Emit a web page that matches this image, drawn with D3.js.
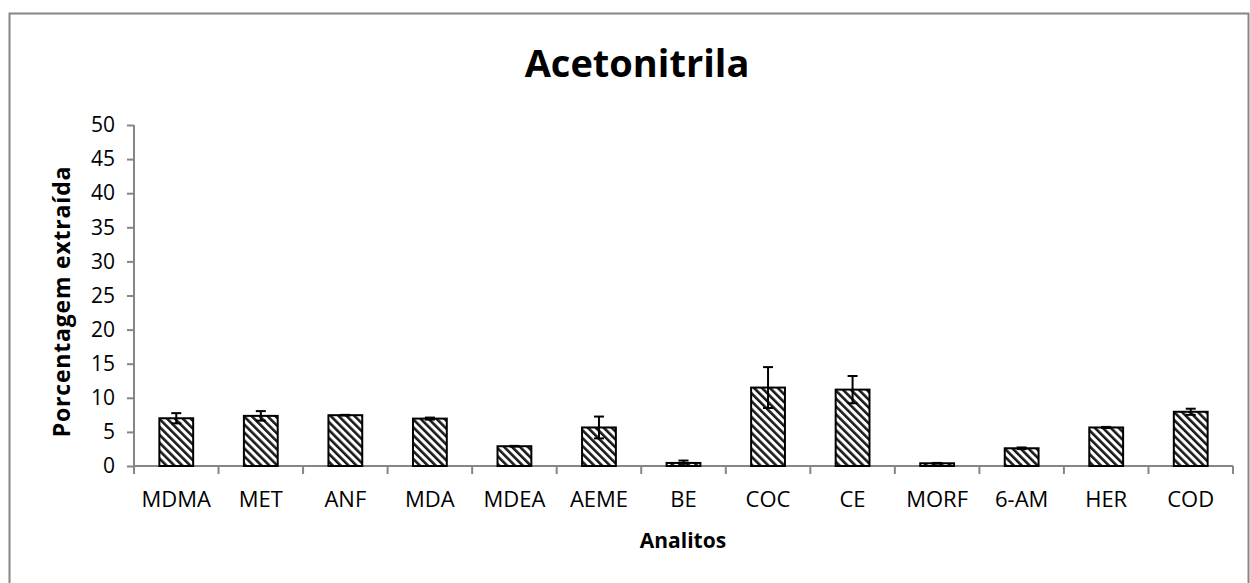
<!DOCTYPE html>
<html lang="pt">
  <head>
    <meta charset="UTF-8" />
    <title>Acetonitrila</title>
    <script src="https://d3js.org/d3.v7.min.js"></script>
    <style>
      body {
        margin: 0;
        background: #ffffff;
        font-family: "Open Sans", sans-serif;
      }
      svg text {
        fill: #000;
      }
    </style>
  </head>
  <body>
    <svg id="chart" width="1250" height="583"></svg>

    <script>
      const categories = ["MDMA", "MET", "ANF", "MDA", "MDEA", "AEME", "BE", "COC", "CE", "MORF", "6-AM", "HER", "COD"];
      const values = [7.0, 7.35, 7.45, 6.95, 2.9, 5.65, 0.45, 11.5, 11.2, 0.4, 2.6, 5.65, 7.95];
      const errors = [0.75, 0.7, 0.05, 0.15, 0.05, 1.6, 0.35, 3.0, 2.0, 0.05, 0.12, 0.08, 0.45];
      const yTicks = [0, 5, 10, 15, 20, 25, 30, 35, 40, 45, 50];

      const margin = {top: 125, left: 134, right: 17, bottom: 117};
      const W = 1250, H = 583;
      const svg = d3.select("#chart");

      // outer chart border
      svg.append("rect")
        .attr("x", 9.5).attr("y", 13.5)
        .attr("width", 1239).attr("height", 620)
        .attr("fill", "none").attr("stroke", "#868686").attr("stroke-width", 2);

      const defs = svg.append("defs");
      const pat = defs.append("pattern")
        .attr("id", "hatch")
        .attr("patternUnits", "userSpaceOnUse")
        .attr("width", 5.6).attr("height", 5.6)
        .attr("patternTransform", "rotate(-45)");
      pat.append("rect").attr("width", 5.6).attr("height", 5.6).attr("fill", "#fff");
      pat.append("rect").attr("width", 2.6).attr("height", 5.6).attr("fill", "#1a1a1a");

      const x = d3.scaleBand()
        .domain(categories)
        .range([margin.left, W - margin.right])
        .paddingInner(0.6).paddingOuter(0.3);
      const xEdge = d3.scaleBand().domain(categories).range([margin.left, W - margin.right]);

      const y = d3.scaleLinear().domain([0, 50]).range([H - margin.bottom, margin.top]);

      // y axis
      const yAxis = svg.append("g")
        .attr("transform", `translate(${margin.left},0)`)
        .call(d3.axisLeft(y).tickValues(yTicks).tickSize(7).tickPadding(12).tickFormat(d3.format("d")));
      yAxis.select(".domain").attr("stroke", "#868686").attr("stroke-width", 2).attr("d", `M0,${y(50)}V${y(0)}`);
      yAxis.selectAll(".tick line").attr("stroke", "#868686").attr("stroke-width", 2);
      yAxis.selectAll(".tick text").attr("font-size", 21).attr("font-family", "Open Sans");

      // x axis with ticks at band edges
      const xAxisG = svg.append("g").attr("transform", `translate(0,${y(0)})`);
      xAxisG.append("line")
        .attr("x1", margin.left).attr("x2", W - margin.right)
        .attr("stroke", "#868686").attr("stroke-width", 2);
      const edges = categories.map((c) => xEdge(c)).concat([W - margin.right]);
      xAxisG.selectAll("line.edge").data(edges).join("line")
        .attr("class", "edge")
        .attr("x1", (d) => d).attr("x2", (d) => d)
        .attr("y1", 0).attr("y2", 8)
        .attr("stroke", "#868686").attr("stroke-width", 2);
      xAxisG.selectAll("text").data(categories).join("text")
        .attr("x", (d) => xEdge(d) + xEdge.bandwidth() / 2)
        .attr("y", 41)
        .attr("text-anchor", "middle")
        .attr("font-size", 22)
        .text((d) => d);

      // bars
      svg.append("g").selectAll("rect").data(categories).join("rect")
        .attr("x", (d) => x(d))
        .attr("y", (d, i) => y(values[i]))
        .attr("width", x.bandwidth())
        .attr("height", (d, i) => y(0) - y(values[i]))
        .attr("fill", "url(#hatch)")
        .attr("stroke", "#000").attr("stroke-width", 2);

      // error bars
      const eb = svg.append("g").attr("stroke", "#000").attr("stroke-width", 2);
      categories.forEach((c, i) => {
        const cx = x(c) + x.bandwidth() / 2;
        const lo = y(Math.max(0, values[i] - errors[i]));
        const hi = y(values[i] + errors[i]);
        eb.append("line").attr("x1", cx).attr("x2", cx).attr("y1", lo).attr("y2", hi);
        eb.append("line").attr("x1", cx - 5).attr("x2", cx + 5).attr("y1", hi).attr("y2", hi);
        eb.append("line").attr("x1", cx - 5).attr("x2", cx + 5).attr("y1", lo).attr("y2", lo);
      });

      // titles
      svg.append("text")
        .attr("x", 637).attr("y", 77)
        .attr("text-anchor", "middle")
        .attr("font-size", 38).attr("font-weight", "bold")
        .text("Acetonitrila");

      svg.append("text")
        .attr("x", 683).attr("y", 548)
        .attr("text-anchor", "middle")
        .attr("font-size", 21).attr("font-weight", "bold")
        .text("Analitos");

      svg.append("text")
        .attr("transform", `translate(70,${(y(0) + y(50)) / 2 + 6}) rotate(-90)`)
        .attr("text-anchor", "middle")
        .attr("font-size", 23).attr("font-weight", "bold")
        .attr("letter-spacing", 0.8)
        .text("Porcentagem extraída");
    </script>
  </body>
</html>
